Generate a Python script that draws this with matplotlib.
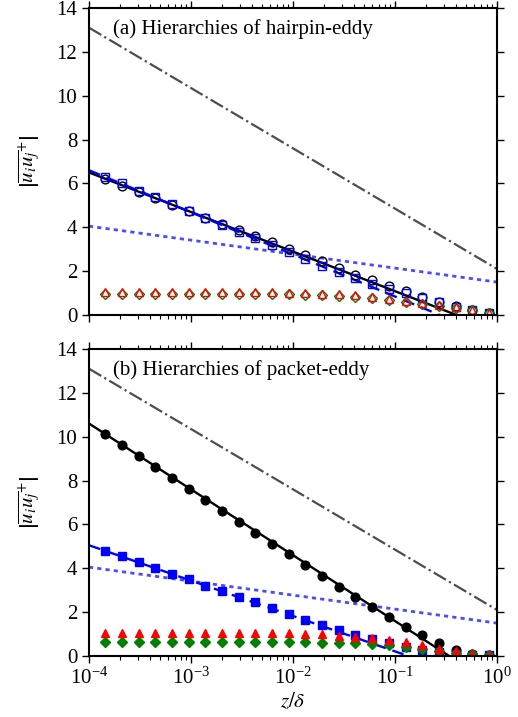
import numpy as np
import matplotlib
matplotlib.use("Agg")
import matplotlib.pyplot as plt

plt.rcParams['font.family'] = ['Liberation Serif', 'DejaVu Serif']
plt.rcParams['mathtext.fontset'] = 'stix'

# sample heights z/delta
z = [1.445e-4, 2.11e-4, 3.07e-4, 4.48e-4, 6.52e-4, 9.5e-4, 1.384e-3, 2.02e-3,
     2.94e-3, 4.29e-3, 6.24e-3, 9.1e-3, 1.325e-2, 1.93e-2, 2.81e-2, 4.1e-2,
     5.97e-2, 8.7e-2, 0.127, 0.185, 0.269, 0.393, 0.572, 0.832]

# (a) hairpin-eddy hierarchies
a_circ = [6.21, 5.90, 5.60, 5.33, 5.02, 4.72, 4.44, 4.16, 3.88, 3.62, 3.32, 3.03,
          2.74, 2.44, 2.16, 1.83, 1.60, 1.34, 1.10, 0.84, 0.61, 0.41, 0.23, 0.10]
a_sq = [6.30, 6.00, 5.66, 5.36, 5.04, 4.72, 4.41, 4.11, 3.80, 3.49, 3.17, 2.86,
        2.56, 2.25, 1.95, 1.67, 1.42, 1.20, 0.99, 0.79, 0.58, 0.38, 0.23, 0.10]
a_tri = [1.03, 1.03, 1.03, 1.03, 1.03, 1.03, 1.03, 1.03, 1.03, 1.03, 1.03, 1.02,
         1.00, 0.97, 0.94, 0.90, 0.83, 0.75, 0.64, 0.56, 0.47, 0.35, 0.23, 0.10]
a_dia = [0.96, 0.96, 0.96, 0.96, 0.96, 0.96, 0.96, 0.96, 0.96, 0.96, 0.96, 0.95,
         0.93, 0.90, 0.87, 0.83, 0.76, 0.69, 0.59, 0.51, 0.43, 0.32, 0.21, 0.09]

# (b) packet-eddy hierarchies
b_circ = [10.12, 9.61, 9.13, 8.62, 8.12, 7.62, 7.11, 6.61, 6.12, 5.62, 5.12, 4.63,
          4.13, 3.63, 3.14, 2.67, 2.22, 1.77, 1.34, 0.94, 0.59, 0.29, 0.10, 0.03]
b_sq = [4.81, 4.54, 4.30, 4.02, 3.75, 3.49, 3.21, 2.97, 2.70, 2.44, 2.19, 1.92,
        1.66, 1.42, 1.19, 0.97, 0.79, 0.61, 0.41, 0.29, 0.17, 0.10, 0.06, 0.03]
b_tri = [1.04, 1.04, 1.04, 1.04, 1.04, 1.04, 1.04, 1.04, 1.04, 1.04, 1.04, 1.03,
         1.01, 0.98, 0.93, 0.88, 0.81, 0.72, 0.62, 0.49, 0.34, 0.21, 0.10, 0.05]
b_dia = [0.62, 0.62, 0.62, 0.62, 0.62, 0.62, 0.62, 0.62, 0.62, 0.62, 0.62, 0.62,
         0.62, 0.61, 0.60, 0.58, 0.53, 0.49, 0.41, 0.30, 0.21, 0.14, 0.08, 0.03]

# log-law reference lines (end points)
zl = [1e-4, 1.0]
dashdot = [13.1, 2.1]
dotted = [4.05, 1.5]
a_solid_z, a_solid = [1e-4, 0.40], [6.5, 0.0]
a_dash_z, a_dash = [1e-4, 0.275], [6.6, 0.0]
b_solid_z, b_solid = [1e-4, 0.34], [10.6, 0.0]
b_dash_z, b_dash = [1e-4, 0.135], [5.05, 0.0]

fig = plt.figure(figsize=(5.18, 7.17), dpi=100)
ax1 = fig.add_axes([0.1718, 0.5607, 0.7876, 0.4282])
ax2 = fig.add_axes([0.1718, 0.0851, 0.7876, 0.4282])

ms = 6.3
for ax, filled, circ, sq, tri, dia, sz, sv, dz, dv, title in [
        (ax1, False, a_circ, a_sq, a_tri, a_dia, a_solid_z, a_solid, a_dash_z, a_dash,
         '(a) Hierarchies of hairpin-eddy'),
        (ax2, True, b_circ, b_sq, b_tri, b_dia, b_solid_z, b_solid, b_dash_z, b_dash,
         '(b) Hierarchies of packet-eddy')]:
    ax.plot(zl, dashdot, color='#4d4d4d', ls='-.', lw=1.6)
    ax.plot(zl, dotted, color='#4a4aff', ls=(0, (1.5, 1.5)), lw=2)
    ax.plot(sz, sv, color='black', lw=1.7)
    ax.plot(dz, dv, color='#0000ff', ls=(0, (5, 3)), lw=1.7)

    def mk(vals, m, c, s=ms):
        fc = c if filled else 'none'
        ax.plot(z, vals, ls='none', marker=m, ms=s, mec=c, mfc=fc, mew=1.0)

    mk(circ, 'o', 'black')
    mk(sq, 's', '#0000ff', ms - 0.8)
    mk(dia, 'D', '#008000', ms - 1.0)
    mk(tri, '^', '#ff0000')

    ax.set_xscale('log')
    ax.set_xlim(1e-4, 1)
    ax.set_ylim(0, 14)
    ax.set_yticks([0, 2, 4, 6, 8, 10, 12, 14])
    ax.tick_params(which='both', direction='out', top=True, right=True,
                   labelsize=15)
    ax.tick_params(which='major', length=5, width=1)
    ax.tick_params(which='minor', length=3, width=0.8)
    for sp in ax.spines.values():
        sp.set_linewidth(1.5)
    ax.text(0.06, 0.965, title, transform=ax.transAxes, fontsize=15,
            va='top', ha='left')
    ax.set_ylabel(r'$\left|\overline{u_i u_j}^{+}\right|$', fontsize=15,
                  labelpad=10)

ax1.tick_params(labelbottom=False)
ax2.set_xlabel(r'$z/\delta$', fontsize=15, labelpad=2)

fig.savefig('out.png', dpi=100)
